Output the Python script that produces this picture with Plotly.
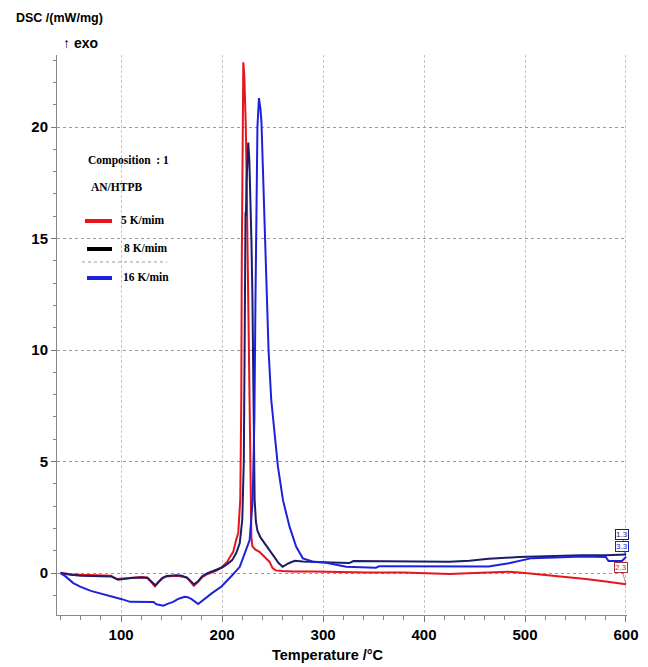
import plotly.graph_objects as go

# ---------------- data ----------------
t_5k = [40, 50, 60, 70, 80, 90, 96, 100, 110, 120, 126, 130, 133.5, 137, 141, 145, 150, 155,
        160, 165, 168, 172, 176, 180, 185, 190, 195, 200, 205, 208, 211, 214, 216, 218, 219,
        219.5, 220.3, 221, 222, 223.5, 224.5, 225.5, 226.5, 227.5, 228.2, 229, 230, 233, 237,
        242, 247, 250, 253, 260, 270, 290, 310, 343, 380, 425, 450, 484, 500, 520, 540, 560,
        580, 600]
dsc_5k = [0.02, -0.05, -0.08, -0.1, -0.1, -0.12, -0.27, -0.25, -0.2, -0.18, -0.2, -0.4, -0.6,
          -0.4, -0.22, -0.15, -0.12, -0.12, -0.15, -0.2, -0.35, -0.57, -0.4, -0.2, -0.05, 0.02,
          0.12, 0.28, 0.5, 0.73, 0.95, 1.5, 1.8, 3.3, 7.8, 14, 20, 22.9, 22.3, 20, 17, 13, 9,
          5, 2.5, 1.6, 1.2, 1.05, 0.95, 0.7, 0.5, 0.22, 0.12, 0.09, 0.07, 0.07, 0.05, 0.03,
          0.03, -0.04, 0.0, 0.06, 0.0, -0.08, -0.17, -0.27, -0.38, -0.5]

t_8k = [40, 50, 60, 70, 80, 90, 97, 100, 110, 120, 126, 130, 134, 137, 141, 145, 150, 155,
        160, 165, 168, 172, 176, 180, 185, 190, 195, 200, 205, 210, 214, 217.5, 220, 221.5,
        222.3, 222.8, 223.2, 223.6, 224.2, 225, 225.9, 227, 228, 229, 230, 230.8, 231.5, 232.2,
        233.5, 235, 238, 242, 247, 252, 256, 260, 263, 266, 272, 280, 300, 326, 330, 380, 425,
        445, 464, 494, 524, 556, 580, 590, 597, 600]
dsc_8k = [0.0, -0.08, -0.12, -0.14, -0.15, -0.15, -0.3, -0.28, -0.22, -0.2, -0.22, -0.38,
          -0.55, -0.4, -0.22, -0.13, -0.1, -0.1, -0.12, -0.2, -0.32, -0.5, -0.38, -0.15, -0.02,
          0.08, 0.15, 0.25, 0.4, 0.58, 0.9, 1.35, 2.4, 5, 10, 14, 16.2, 16.0, 17.5, 19.0, 19.3,
          18.5, 17, 15, 12.5, 9, 6, 3.3, 2.3, 1.9, 1.6, 1.35, 1.0, 0.73, 0.45, 0.28, 0.36, 0.44,
          0.55, 0.52, 0.48, 0.45, 0.54, 0.54, 0.51, 0.55, 0.64, 0.72, 0.76, 0.8, 0.8, 0.82,
          0.83, 0.83]

t_16k = [40, 45, 52.6, 60, 70, 86, 100.7, 109, 120, 128.6, 132, 135, 141.8, 146, 151.5, 157,
         163, 166, 169.8, 176.3, 180, 184.6, 190, 199.4, 205, 210, 217.5, 222, 227.3, 230.3,
         232, 233, 234, 235, 236.5, 238, 239, 240.5, 243.8, 246, 248.7, 252, 255.3, 260.3,
         266.8, 273.4, 280, 289.5, 303, 322.8, 352.4, 355.7, 400, 434.6, 464, 484, 506.7, 530,
         556, 580, 582.7, 596, 600]
dsc_16k = [0.0, -0.15, -0.45, -0.62, -0.8, -0.98, -1.17, -1.29, -1.3, -1.32, -1.3, -1.4,
           -1.46, -1.38, -1.29, -1.15, -1.06, -1.08, -1.17, -1.39, -1.25, -1.08, -0.9, -0.6,
           -0.35, -0.1, 0.28, 0.8, 1.48, 3.3, 7, 12, 17, 20, 21.3, 20.8, 20.2, 17.9, 13.4, 10,
           7.76, 6.3, 4.77, 3.27, 2.08, 1.18, 0.66, 0.52, 0.46, 0.28, 0.24, 0.31, 0.31, 0.3,
           0.3, 0.44, 0.67, 0.7, 0.74, 0.72, 0.54, 0.54, 0.72]

legend_labels = ["5 K/mim", "8 K/mim", "16 K/min"]
end_labels = ["1.3", "3.3", "2.3"]
x_ticks = [100, 200, 300, 400, 500, 600]
y_ticks = [0, 5, 10, 15, 20]

RED, NAVY, BLUE = "#e8141c", "#1c1c68", "#1c22dc"

# ---------------- layout helpers (page pixel -> paper) ----------------
W, H = 648, 667
PLOT_L, PLOT_R, PLOT_T, PLOT_B = 57, 627, 55, 615   # plot area in page pixels
L, T, R, B = PLOT_L, PLOT_T, W - PLOT_R, H - PLOT_B
PW, PH = PLOT_R - PLOT_L, PLOT_B - PLOT_T


def px(x):
    return (x - PLOT_L) / PW


def py(y):
    return (PLOT_B - y) / PH


fig = go.Figure()
for t, d, c in [(t_5k, dsc_5k, RED), (t_8k, dsc_8k, NAVY), (t_16k, dsc_16k, BLUE)]:
    fig.add_trace(go.Scatter(x=t, y=d, mode="lines", line=dict(color=c, width=2),
                             showlegend=False, hoverinfo="skip"))

SANS = "Liberation Sans, Arial, sans-serif"
tickfont = dict(family=SANS, size=15, color="black")

fig.update_layout(
    width=W, height=H, margin=dict(l=L, r=R, t=T, b=B, autoexpand=False),
    paper_bgcolor="white", plot_bgcolor="white", showlegend=False,
    xaxis=dict(range=[36.5, 601], tickvals=x_ticks, ticktext=[f"<b>{v}</b>" for v in x_ticks],
               ticks="outside", ticklen=6, tickcolor="#777", showline=True, linecolor="#888",
               linewidth=1, showgrid=True, gridcolor="#c4c4c4", griddash="3px,2px",
               zeroline=False, tickfont=tickfont, automargin=False, ticklabeloverflow="allow",
               minor=dict(dtick=20, tick0=0, ticks="outside", ticklen=4, tickcolor="#888",
                          showgrid=False)),
    yaxis=dict(range=[-1.88, 23.23], tickvals=y_ticks, ticktext=[f"<b>{v}</b>" for v in y_ticks],
               ticks="outside", ticklen=5, tickcolor="#777", showline=True, linecolor="#888",
               linewidth=1, showgrid=True, gridcolor="#999", griddash="dot", zeroline=False,
               tickfont=tickfont, automargin=False, ticklabeloverflow="allow",
               minor=dict(dtick=1, tick0=0, ticks="outside", ticklen=3, tickcolor="#888",
                          showgrid=False)),
)

shapes = [
    # white erasures over grid (as in the reference)
    dict(type="rect", xref="paper", yref="paper", x0=px(327), x1=px(520), y0=py(236), y1=py(52),
         fillcolor="white", line=dict(width=0), layer="between"),
    dict(type="rect", xref="paper", yref="paper", x0=px(82), x1=px(170), y0=py(243), y1=py(235),
         fillcolor="white", line=dict(width=0), layer="between"),
    # legend separator
    dict(type="line", xref="paper", yref="paper", x0=px(82), x1=px(167), y0=py(262), y1=py(262),
         line=dict(color="#999", width=1, dash="dot"), layer="between"),
    # legend swatches
    dict(type="line", xref="paper", yref="paper", x0=px(85), x1=px(112), y0=py(221), y1=py(221),
         line=dict(color=RED, width=4)),
    dict(type="line", xref="paper", yref="paper", x0=px(87), x1=px(112), y0=py(249), y1=py(249),
         line=dict(color="black", width=4)),
    dict(type="line", xref="paper", yref="paper", x0=px(87), x1=px(112), y0=py(278), y1=py(278),
         line=dict(color=BLUE, width=4)),
]
fig.update_layout(shapes=shapes)

serif = dict(family="Liberation Serif, Times New Roman, serif", size=11.5, color="black")
ann = [
    dict(text="<b>DSC /(mW/mg)</b>", x=px(14), y=py(18), xanchor="left", yanchor="middle",
         font=dict(family=SANS, size=12.5, color="black")),
    dict(text="<b>↑ exo</b>", x=px(61), y=py(43), xanchor="left", yanchor="middle",
         font=dict(family=SANS, size=14, color="black")),
    dict(text="<b>Temperature /°C</b>", x=px(328), y=py(655), xanchor="center",
         yanchor="middle", font=dict(family=SANS, size=14.5, color="black")),
    dict(text="<b>Composition  : 1</b>", x=px(86), y=py(160), xanchor="left", yanchor="middle",
         font=serif),
    dict(text="<b>AN/HTPB</b>", x=px(89), y=py(187), xanchor="left", yanchor="middle",
         font=serif),
    dict(text=f"<b>{legend_labels[0]}</b>", x=px(119), y=py(220), xanchor="left",
         yanchor="middle", font=serif),
    dict(text=f"<b>{legend_labels[1]}</b>", x=px(122), y=py(248), xanchor="left",
         yanchor="middle", font=serif),
    dict(text=f"<b>{legend_labels[2]}</b>", x=px(121), y=py(277), xanchor="left",
         yanchor="middle", font=serif),
]
for a in ann:
    a.update(xref="paper", yref="paper", showarrow=False)

# end-of-curve value labels
ann += [
    dict(x=t_8k[-1], y=dsc_8k[-1], xref="x", yref="y", text=end_labels[0], showarrow=True,
         arrowhead=0, arrowwidth=0.6, arrowcolor=NAVY, ax=-4, ay=-20,
         font=dict(size=8, color=NAVY, family="Liberation Sans"), bordercolor=NAVY,
         borderwidth=1, borderpad=0, bgcolor="white"),
    dict(x=t_16k[-1], y=dsc_16k[-1], xref="x", yref="y", text=end_labels[1], showarrow=True,
         arrowhead=0, arrowwidth=0.6, arrowcolor=BLUE, ax=-4, ay=-11,
         font=dict(size=8, color=BLUE, family="Liberation Sans"), bordercolor=BLUE,
         borderwidth=1, borderpad=0, bgcolor="white"),
    dict(x=t_5k[-1], y=dsc_5k[-1], xref="x", yref="y", text=end_labels[2], showarrow=True,
         arrowhead=0, arrowwidth=0.6, arrowcolor="#a33", ax=-5, ay=-17,
         font=dict(size=8, color="#a33", family="Liberation Sans"), bordercolor="#a33",
         borderwidth=1, borderpad=0, bgcolor="white"),
]
fig.update_layout(annotations=ann)

# remove the browser's default page margin so the figure fills the window exactly
fig.write_html("out.html", config={"displayModeBar": False},
               post_script="document.body.style.margin='0';document.body.style.overflow='hidden';")
